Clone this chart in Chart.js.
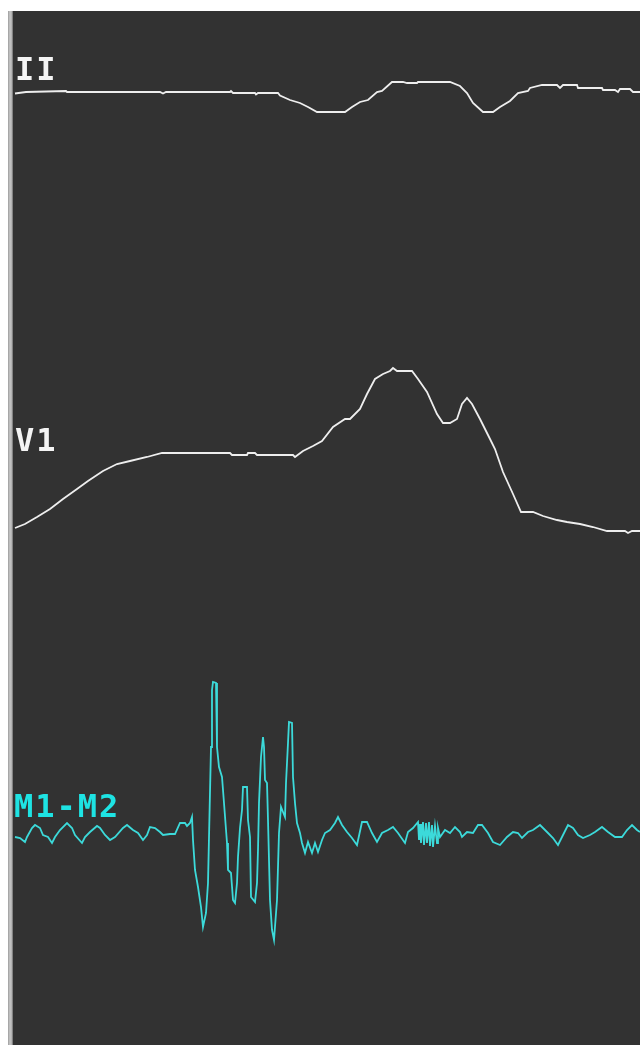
<!DOCTYPE html>
<html>
<head>
<meta charset="utf-8">
<script src="https://cdn.jsdelivr.net/npm/chart.js@4/dist/chart.umd.min.js"></script>
<style>
  html, body { margin: 0; padding: 0; background: #ffffff; }
  #edge { position: absolute; left: 8px; top: 11px; width: 5px; height: 1034px;
          background: linear-gradient(to right, #9c9c9c, #c8c8c8 40%, #b4b4b4 70%, #6a6a6a); }
  #wrap { position: absolute; left: 13px; top: 11px; width: 627px; height: 1034px; background: #323232; }
</style>
</head>
<body>
<div id="edge"></div>
<div id="wrap"><canvas id="ecg"></canvas></div>
<script>
// lead names
const leadNames = ['II', 'V1', 'M1-M2'];

// lead II: time (sample) and deflection
const iiT = [15, 26, 66, 67, 160, 163, 166, 230, 231, 233, 255, 256, 258, 278, 280, 290, 300, 308, 317, 345, 352, 360, 368, 377, 382, 392, 403, 407, 417, 418, 450, 460, 467, 473, 483, 493, 500, 510, 518, 528, 530, 542, 557, 560, 563, 577, 578, 602, 603, 615, 618, 620, 630, 633, 640];
const iiV = [-1.5, 0, 1, 0, 0, -1.5, 0, 0, 1, -1, -1, -2.5, -1, -1, -3.5, -8, -11, -15, -20, -20, -15, -10, -8, 0, 1, 10, 10, 9, 9, 10, 10, 6, -1, -11, -20, -20, -15, -9, -1, 1, 4, 7, 7, 4, 7, 7, 4, 4, 2, 2, 0, 3, 3, 0, 0];

// lead V1
const v1T = [15, 25, 37, 50, 63, 77, 88, 103, 117, 130, 147, 162, 230, 232, 247, 248, 255, 257, 293, 295, 303, 313, 322, 333, 345, 350, 360, 367, 375, 383, 390, 393, 397, 412, 418, 427, 437, 443, 450, 457, 462, 467, 472, 480, 490, 495, 503, 513, 521, 533, 543, 557, 567, 580, 593, 607, 625, 628, 632, 640];
const v1V = [-73, -69, -62, -54, -44, -34, -26, -16, -9, -6, -2, 2, 2, 0, 0, 2, 2, 0, 0, -2, 4, 9, 14, 28, 36, 36, 46, 61, 76, 81, 84, 87, 84, 84, 76, 63, 41, 32, 32, 36, 51, 57, 51, 36, 16, 6, -17, -39, -57, -57, -61, -65, -67, -69, -72, -76, -76, -78, -76, -76];

// M1-M2 (EMG)
const emgT = [15, 20, 25, 27, 32, 35, 40, 43, 48, 52, 55, 60, 67, 72, 75, 82, 85, 90, 97, 100, 105, 110, 115, 123, 127, 133, 138, 143, 147, 150, 155, 160, 163, 170, 175, 180, 185, 187, 190, 192,
  193, 195, 198, 201, 203, 206, 208, 211, 212, 213, 216, 217, 219, 222, 224, 227, 228, 231, 233, 235, 237, 238, 240, 242, 243, 247, 248, 250, 251, 255, 257, 258, 259, 261, 263, 264, 265, 267, 268, 270, 272, 274, 277, 278, 279, 281, 285, 286, 288, 289, 292, 293, 295, 297, 300,
  302, 305, 308, 312, 315, 318, 322, 325, 330, 335, 338, 342, 347, 352, 357, 362, 367, 372, 377, 382, 388, 393, 398, 405, 408, 413, 418, 419, 420, 421, 423, 424, 426, 427, 429, 430, 432, 433, 435, 437, 438, 440, 445, 450, 455, 460, 462, 467, 473, 478, 482, 488, 493, 500, 507, 513, 518, 522, 528, 533, 540, 547, 553, 558, 563, 568, 573, 578, 583, 590, 595, 602, 608, 615, 622, 627, 632, 637, 640];
const emgV = [-7, -8, -12, -7, 2, 5, 2, -5, -7, -13, -7, 0, 7, 2, -5, -13, -7, -2, 4, 2, -5, -10, -7, 2, 5, 0, -3, -10, -5, 3, 2, -2, -5, -4, -4, 7, 7, 4, 7, 13,
  -10, -40, -57, -77, -97, -83, -53, 83, 140, 148, 147, 83, 63, 53, 27, -13, -40, -43, -70, -73, -53, -27, 2, 20, 43, 43, 10, -7, -67, -72, -53, -20, 27, 73, 93, 83, 50, 47, 10, -70, -100, -110, -70, -37, -3, 23, 13, 47, 87, 108, 107, 53, 27, 7, -3,
  -13, -23, -12, -23, -13, -22, -10, -3, 0, 7, 13, 5, -2, -8, -15, 8, 8, -3, -12, -3, 0, 3, -3, -13, -2, 2, 8, -10, 6, -13, 8, -15, 7, -13, 8, -16, 5, -17, 4, -13, 2, -7, 0, -3, 3, -2, -7, -2, -3, 5, 5, -3, -12, -15, -7, -2, -3, -8, -2, 0, 5, -2, -8, -15, -5, 5, 2, -5, -8, -5, -2, 3, -2, -7, -7, 0, 5, 0, -2];

// y range of each lead strip
const iiRange = [-219, 81];
const v1Range = [-156, 144];
const emgRange = [-215, 219];

const toPts = (t, v) => t.map((x, i) => ({ x: x, y: v[i] }));

const leadLabels = {
    id: 'leadLabels',
    afterDraw(chart) {
        const ctx = chart.ctx;
        ctx.save();
        ctx.font = 'bold 32px "DejaVu Sans Mono", monospace';
        ctx.letterSpacing = '2px';
        ctx.textBaseline = 'alphabetic';
        ctx.fillStyle = '#f4f4f4';
        ctx.fillText(leadNames[0], 2, 69);
        ctx.fillText(leadNames[1], 2, 440);
        ctx.fillStyle = '#1ee3e3';
        ctx.fillText(leadNames[2], 1, 806);
        ctx.restore();
    }
};

new Chart(document.getElementById('ecg'), {
    type: 'line',
    data: {
        datasets: [
            { label: leadNames[0], data: toPts(iiT, iiV), yAxisID: 'yII', borderColor: '#eeeeee', borderWidth: 1.8 },
            { label: leadNames[1], data: toPts(v1T, v1V), yAxisID: 'yV1', borderColor: '#eeeeee', borderWidth: 1.8 },
            { label: leadNames[2], data: toPts(emgT, emgV), yAxisID: 'yM', borderColor: '#3cdada', borderWidth: 1.8 }
        ]
    },
    options: {
        responsive: true,
        maintainAspectRatio: false,
        animation: false,
        layout: { padding: 0 },
        elements: { point: { radius: 0 }, line: { tension: 0 } },
        plugins: { legend: { display: false }, tooltip: { enabled: false } },
        scales: {
            x: { type: 'linear', min: 13, max: 640, display: false },
            // stacked left axes are laid out last-first, so the bottom strip comes first
            yM: { type: 'linear', position: 'left', stack: 'leads', stackWeight: emgRange[1] - emgRange[0], min: emgRange[0], max: emgRange[1], display: false },
            yV1: { type: 'linear', position: 'left', stack: 'leads', stackWeight: v1Range[1] - v1Range[0], min: v1Range[0], max: v1Range[1], display: false },
            yII: { type: 'linear', position: 'left', stack: 'leads', stackWeight: iiRange[1] - iiRange[0], min: iiRange[0], max: iiRange[1], display: false }
        }
    },
    plugins: [leadLabels]
});
</script>
</body>
</html>
